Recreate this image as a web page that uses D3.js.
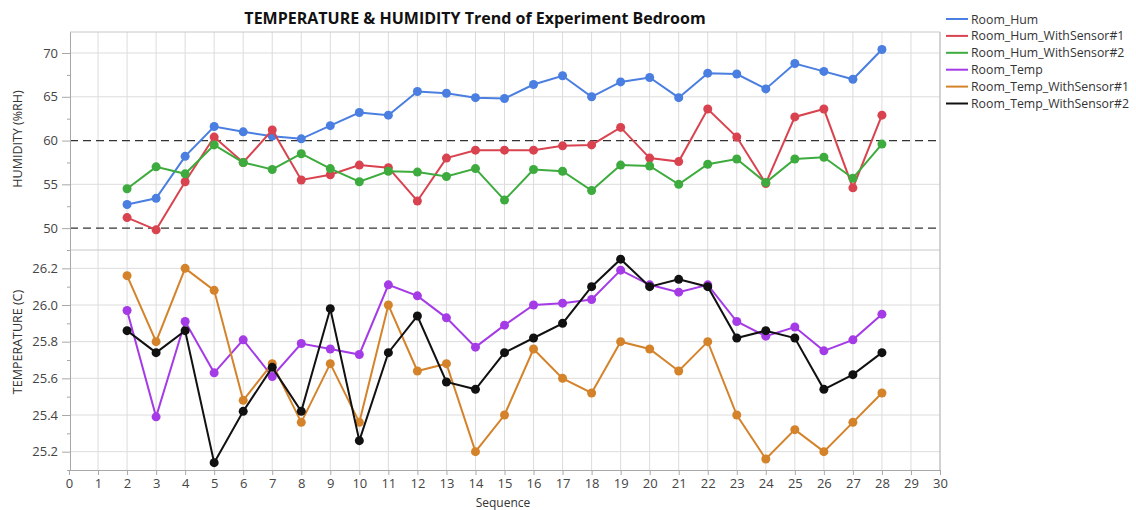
<!DOCTYPE html>
<html>
<head>
<meta charset="utf-8">
<script src="https://cdn.jsdelivr.net/npm/d3@7"></script>
<style>
  body { margin: 0; background: #fff; }
  text { font-family: "Open Sans", "Noto Sans", sans-serif; }
</style>
</head>
<body>
<div id="chart"></div>
<script>
const sequence = [2, 3, 4, 5, 6, 7, 8, 9, 10, 11, 12, 13, 14, 15, 16, 17, 18, 19, 20, 21, 22, 23, 24, 25, 26, 27, 28];

const roomHum = [52.7, 53.4, 58.2, 61.6, 61.0, 60.5, 60.2, 61.7, 63.2, 62.9, 65.6, 65.4, 64.9, 64.8, 66.4, 67.4, 65.0, 66.7, 67.2, 64.9, 67.7, 67.6, 65.9, 68.8, 67.9, 67.0, 70.4];
const roomHumS1 = [51.2, 49.8, 55.3, 60.4, 57.5, 61.2, 55.5, 56.1, 57.2, 56.9, 53.1, 58.0, 58.9, 58.9, 58.9, 59.4, 59.5, 61.5, 58.0, 57.6, 63.6, 60.4, 55.1, 62.7, 63.6, 54.6, 62.9];
const roomHumS2 = [54.5, 57.0, 56.2, 59.5, 57.5, 56.7, 58.5, 56.8, 55.3, 56.5, 56.4, 55.9, 56.8, 53.2, 56.7, 56.5, 54.3, 57.2, 57.1, 55.0, 57.3, 57.9, 55.2, 57.9, 58.1, 55.7, 59.6];

const roomTemp = [25.97, 25.39, 25.91, 25.63, 25.81, 25.61, 25.79, 25.76, 25.73, 26.11, 26.05, 25.93, 25.77, 25.89, 26.0, 26.01, 26.03, 26.19, 26.11, 26.07, 26.11, 25.91, 25.83, 25.88, 25.75, 25.81, 25.95];
const roomTempS1 = [26.16, 25.8, 26.2, 26.08, 25.48, 25.68, 25.36, 25.68, 25.36, 26.0, 25.64, 25.68, 25.2, 25.4, 25.76, 25.6, 25.52, 25.8, 25.76, 25.64, 25.8, 25.4, 25.16, 25.32, 25.2, 25.36, 25.52];
const roomTempS2 = [25.86, 25.74, 25.86, 25.14, 25.42, 25.66, 25.42, 25.98, 25.26, 25.74, 25.94, 25.58, 25.54, 25.74, 25.82, 25.9, 26.1, 26.25, 26.1, 26.14, 26.1, 25.82, 25.86, 25.82, 25.54, 25.62, 25.74];

const humTicks = [50, 55, 60, 65, 70];
const humMinor = [47.5, 52.5, 57.5, 62.5, 67.5];
const tempTicks = [25.2, 25.4, 25.6, 25.8, 26.0, 26.2];
const tempMinor = [25.1, 25.3, 25.5, 25.7, 25.9, 26.1];
const xTicks = [0, 1, 2, 3, 4, 5, 6, 7, 8, 9, 10, 11, 12, 13, 14, 15, 16, 17, 18, 19, 20, 21, 22, 23, 24, 25, 26, 27, 28, 29, 30];
const refLines = [50, 60];

const series = [
  { name: "Room_Hum", values: roomHum, panel: "hum", color: "#4a7ee0" },
  { name: "Room_Hum_WithSensor#1", values: roomHumS1, panel: "hum", color: "#d9434f" },
  { name: "Room_Hum_WithSensor#2", values: roomHumS2, panel: "hum", color: "#3dab3d" },
  { name: "Room_Temp", values: roomTemp, panel: "temp", color: "#a43be6" },
  { name: "Room_Temp_WithSensor#1", values: roomTempS1, panel: "temp", color: "#d4832b" },
  { name: "Room_Temp_WithSensor#2", values: roomTempS2, panel: "temp", color: "#111111" }
];

const plotLeft = 70, plotRight = 940, plotTop = 32, plotMid = 250, plotBottom = 470;

const svg = d3.select("#chart")
  .append("svg")
  .attr("width", 1136)
  .attr("height", 510);

const x = d3.scaleLinear().domain([0, 30]).range([69, 940]);
const yHum = d3.scaleLinear().domain([47.5, 72.4]).range([plotMid, plotTop]);
const yTemp = d3.scaleLinear().domain([25.1, 26.3]).range([plotBottom, plotMid]);

// grid
const grid = svg.append("g").attr("stroke", "#dcdcdc").attr("stroke-width", 1);
grid.selectAll("line.v")
  .data(xTicks.slice(1))
  .enter()
  .append("line")
  .attr("x1", d => x(d)).attr("x2", d => x(d))
  .attr("y1", plotTop).attr("y2", plotBottom);
grid.selectAll("line.h")
  .data(humTicks.filter(d => refLines.indexOf(d) < 0))
  .enter()
  .append("line")
  .attr("x1", plotLeft).attr("x2", plotRight)
  .attr("y1", d => yHum(d)).attr("y2", d => yHum(d));
grid.selectAll("line.t")
  .data(tempTicks)
  .enter()
  .append("line")
  .attr("x1", plotLeft).attr("x2", plotRight)
  .attr("y1", d => yTemp(d)).attr("y2", d => yTemp(d));

// frame
svg.append("line").attr("x1", plotLeft).attr("x2", plotRight).attr("y1", plotTop).attr("y2", plotTop).attr("stroke", "#c8c8c8");
svg.append("line").attr("x1", plotLeft).attr("x2", plotRight).attr("y1", plotMid).attr("y2", plotMid).attr("stroke", "#c8c8c8");
svg.append("line").attr("x1", plotRight).attr("x2", plotRight).attr("y1", plotTop).attr("y2", plotBottom).attr("stroke", "#b8b8b8");

// reference lines
svg.selectAll("line.ref")
  .data(refLines)
  .enter()
  .append("line")
  .attr("x1", plotLeft).attr("x2", plotRight)
  .attr("y1", d => yHum(d)).attr("y2", d => yHum(d))
  .attr("stroke", "#333")
  .attr("stroke-width", 1.3)
  .attr("stroke-dasharray", "8,5");

function styleAxis(g) {
  g.select(".domain").attr("stroke", "#a8a8a8");
  g.selectAll(".tick line").attr("stroke", "#a8a8a8");
  g.selectAll(".tick text").attr("fill", "#444").style("font-size", "13px");
}

// left axes
svg.append("g")
  .attr("transform", `translate(${plotLeft},0)`)
  .call(d3.axisLeft(yHum).tickValues(humTicks).tickSize(8).tickSizeOuter(0).tickPadding(4))
  .call(styleAxis);
svg.append("g")
  .attr("transform", `translate(${plotLeft},0)`)
  .call(d3.axisLeft(yHum).tickValues(humMinor).tickSize(3).tickFormat("").tickSizeOuter(0))
  .call(styleAxis);
svg.append("g")
  .attr("transform", `translate(${plotLeft},0)`)
  .call(d3.axisLeft(yTemp).tickValues(tempTicks).tickSize(8).tickSizeOuter(0).tickPadding(4).tickFormat(d3.format(".1f")))
  .call(styleAxis);
svg.append("g")
  .attr("transform", `translate(${plotLeft},0)`)
  .call(d3.axisLeft(yTemp).tickValues(tempMinor).tickSize(3).tickFormat("").tickSizeOuter(0))
  .call(styleAxis);

// bottom axis
svg.append("g")
  .attr("transform", `translate(0,${plotBottom})`)
  .call(d3.axisBottom(x).tickValues(xTicks).tickSize(5).tickSizeOuter(0).tickPadding(4))
  .call(styleAxis);

// series
series.forEach(s => {
  const y = s.panel === "hum" ? yHum : yTemp;
  const line = d3.line().x((d, i) => x(sequence[i])).y(d => y(d));
  svg.append("path")
    .datum(s.values)
    .attr("fill", "none")
    .attr("stroke", s.color)
    .attr("stroke-width", 2)
    .attr("d", line);
  svg.append("g")
    .selectAll("circle")
    .data(s.values)
    .enter()
    .append("circle")
    .attr("cx", (d, i) => x(sequence[i]))
    .attr("cy", d => y(d))
    .attr("r", 4.5)
    .attr("fill", s.color);
});

// titles
svg.append("text")
  .attr("x", 475).attr("y", 24)
  .attr("text-anchor", "middle")
  .attr("font-weight", "bold")
  .style("font-size", "16px")
  .attr("fill", "#111")
  .text("TEMPERATURE & HUMIDITY Trend of Experiment Bedroom");

svg.append("text")
  .attr("transform", "translate(22,139) rotate(-90)")
  .attr("text-anchor", "middle")
  .style("font-size", "12.5px")
  .attr("fill", "#333")
  .text("HUMIDITY (%RH)");
svg.append("text")
  .attr("transform", "translate(22,342) rotate(-90)")
  .attr("text-anchor", "middle")
  .style("font-size", "12.5px")
  .attr("fill", "#333")
  .text("TEMPERATURE (C)");
svg.append("text")
  .attr("x", 503).attr("y", 507)
  .attr("text-anchor", "middle")
  .style("font-size", "12px")
  .attr("fill", "#333")
  .text("Sequence");

// legend
const legend = svg.append("g")
  .selectAll("g")
  .data(series)
  .enter()
  .append("g")
  .attr("transform", (d, i) => `translate(946,${19 + i * 16.9})`);
legend.append("line")
  .attr("x1", 0).attr("x2", 22)
  .attr("stroke", d => d.color)
  .attr("stroke-width", 2);
legend.append("text")
  .attr("x", 25).attr("y", 4.5)
  .style("font-size", "12.3px")
  .attr("fill", "#333")
  .text(d => d.name);
</script>
</body>
</html>
